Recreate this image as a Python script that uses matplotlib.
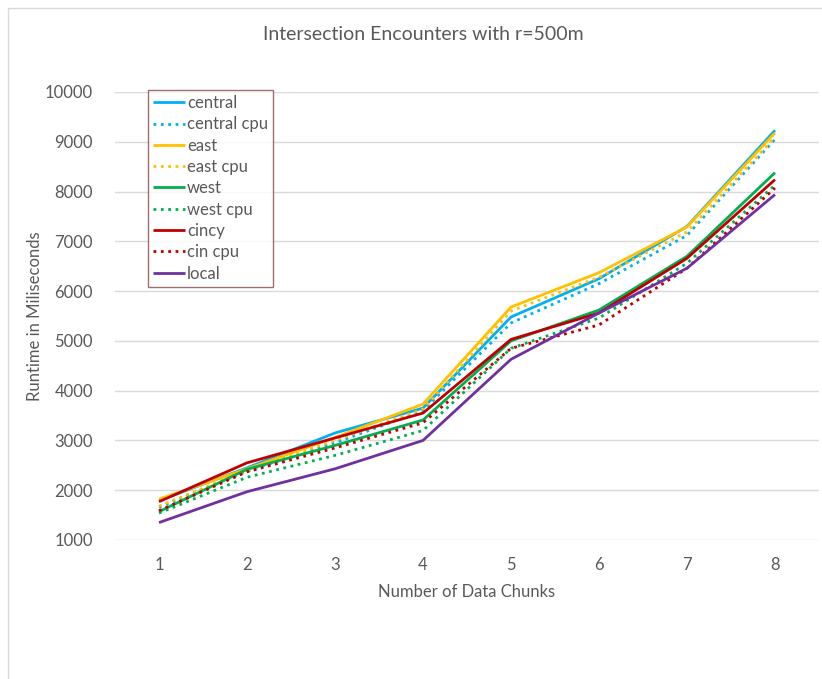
import matplotlib.pyplot as plt
from matplotlib.patches import Rectangle

# ---------------------------------------------------------------------------- #
# DATA

chunks = [1, 2, 3, 4, 5, 6, 7, 8]

central     = [1790, 2450, 3150, 3650, 5480, 6250, 7300, 9230]
central_cpu = [1660, 2380, 2950, 3600, 5360, 6150, 7120, 9050]
east        = [1820, 2430, 3060, 3730, 5680, 6370, 7290, 9180]
east_cpu    = [1680, 2400, 3000, 3630, 5600, 6280, 7190, 9090]
west        = [1570, 2420, 2900, 3410, 5000, 5620, 6700, 8380]
west_cpu    = [1540, 2260, 2700, 3200, 4850, 5460, 6560, 8130]
cincy       = [1770, 2550, 3050, 3550, 5030, 5560, 6660, 8240]
cin_cpu     = [1590, 2370, 2850, 3355, 4850, 5320, 6460, 8070]
local       = [1350, 1970, 2430, 3000, 4630, 5560, 6460, 7940]

# ---------------------------------------------------------------------------- #
# FIGURE

plt.rcParams['font.family'] = ['Lato', 'DejaVu Sans']
txt = '#595959'
grid = '#d9d9d9'

fig = plt.figure(figsize=(8.22, 6.79), dpi=100)
ax = fig.add_axes([115 / 822, 139 / 679, 704 / 822, 448 / 679])

# chart area border
fig.patches.append(Rectangle((8 / 822, -0.1), 1.2, (679 - 8) / 679 + 0.1,
                             transform=fig.transFigure, fill=False,
                             edgecolor=grid, linewidth=1))

series = [
    (central, 'central', '#00B0F0', '-'),
    (central_cpu, 'central cpu', '#00B0F0', ':'),
    (east, 'east', '#FFC000', '-'),
    (east_cpu, 'east cpu', '#FFC000', ':'),
    (west, 'west', '#00B050', '-'),
    (west_cpu, 'west cpu', '#00B050', ':'),
    (cincy, 'cincy', '#C00000', '-'),
    (cin_cpu, 'cin cpu', '#C00000', ':'),
    (local, 'local', '#7030A0', '-'),
]
for values, name, color, style in series:
    ax.plot(chunks, values, color=color, linestyle=style, linewidth=2.0,
            label=name, solid_capstyle='butt')

ax.set_xlim(0.5, 8.5)
ax.set_ylim(1000, 10000)
ax.set_yticks(range(1000, 10001, 1000))
ax.set_xticks(chunks)
ax.grid(axis='y', color=grid, linewidth=1)
ax.set_axisbelow(True)
for side in ['top', 'right', 'left', 'bottom']:
    ax.spines[side].set_visible(False)
ax.tick_params(length=0, labelsize=12, colors=txt, pad=12)
ax.tick_params(axis='y', pad=16)

ax.set_xlabel('Number of Data Chunks', fontsize=12, color=txt, labelpad=8)
ax.set_ylabel('Runtime in Miliseconds', fontsize=12, color=txt, labelpad=1)
fig.text(0.5 + 12 / 822, 1 - 34 / 679, 'Intersection Encounters with r=500m',
         ha='center', va='center', fontsize=14, color=txt)

leg = ax.legend(loc='upper left', bbox_to_anchor=(33 / 704, 450 / 448),
                fontsize=12, frameon=True, fancybox=False, handlelength=1.9,
                handletextpad=0.15, borderpad=0.3, borderaxespad=0,
                labelspacing=0.32, labelcolor=txt)
leg.get_frame().set_edgecolor('#8B4A47')
leg.get_frame().set_linewidth(1)

fig.savefig('out.png', dpi=100)
